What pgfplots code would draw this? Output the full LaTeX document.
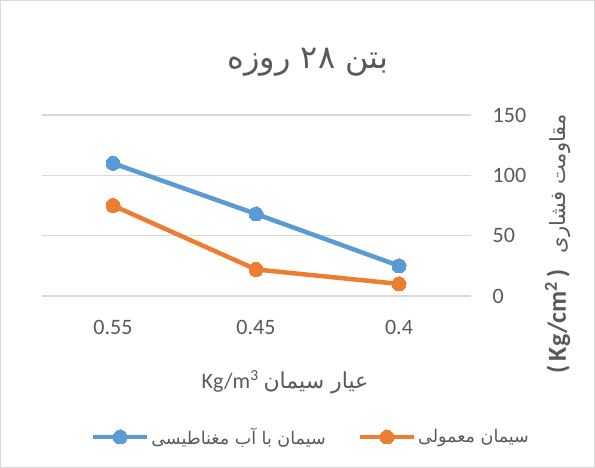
\documentclass[border=0pt]{standalone}
\usepackage{fontspec}
\usepackage{pgfplots}
\pgfplotsset{compat=1.18}
\setmainfont{Carlito}
\newfontfamily\arabicfont[Script=Arabic]{DejaVu Sans}
\TeXXeTstate=1
\definecolor{txt}{HTML}{595959}
\definecolor{gridc}{HTML}{D9D9D9}
\definecolor{sblue}{HTML}{5B9BD5}
\definecolor{sorange}{HTML}{ED7D31}
\begin{document}
\begin{tikzpicture}[x=1pt,y=1pt]
\useasboundingbox (0,0) rectangle (595,468);
\draw[gridc, line width=1pt] (0.5,0.5) rectangle (594.5,467.5);
\begin{axis}[
  at={(41.5pt,172pt)}, anchor=south west,
  scale only axis, width=429pt, height=181pt,
  xmin=-0.5, xmax=2.5, ymin=0, ymax=150,
  xtick={0,1,2}, xticklabels={0.55,0.45,0.4},
  ytick={0,50,100,150},
  /pgf/number format/assume math mode=true,
  yticklabel pos=right,
  axis line style={draw=none},
  major tick length=0pt,
  ymajorgrids, grid style={gridc, line width=1.2pt},
  tick label style={font=\fontsize{22}{26}\selectfont, text=txt},
  yticklabel style={anchor=west, inner sep=0pt, xshift=22pt},
  xticklabel style={anchor=north, inner sep=0pt, yshift=-24pt},
  clip=false,
  legend style={draw=none, fill=none, at={(0.628,-0.779)}, anchor=center,
    font=\arabicfont\fontsize{17.5}{20}\selectfont, text=txt,
    /tikz/every even column/.append style={column sep=30pt}},
  legend columns=2,
  legend cell align=left,
  legend image code/.code={\draw[mark repeat=2,mark phase=2] plot coordinates {(0pt,0pt)(27pt,0pt)(54pt,0pt)};},
]
\addplot[sblue, line width=4.5pt, mark=*, mark size=7pt, mark options={solid, fill=sblue, draw=sblue, line width=0pt}]
  coordinates {(0,110) (1,68) (2,25)};
\addlegendentry{\beginR سیمان با آب مغناطیسی\endR}
\addplot[sorange, line width=4.5pt, mark=*, mark size=7pt, mark options={solid, fill=sorange, draw=sorange, line width=0pt}]
  coordinates {(0,75) (1,22) (2,10)};
\addlegendentry{\beginR سیمان معمولی\endR}
\end{axis}
\node[text=txt, font=\arabicfont\fontsize{32}{38}\selectfont] at (308,406) {\beginR بتن ۲۸ روزه\endR};
\node[text=txt, font=\fontsize{22}{26}\selectfont] at (285,86) {Kg/m\textsuperscript{3} {\arabicfont\beginR عیار سیمان\endR}};
\node[text=txt, rotate=90, font=\fontsize{21}{26}\selectfont] at (558,224) {{\fontsize{26}{30}\selectfont\bfseries (\,Kg/cm\textsuperscript{2}\,)}\hspace{16pt}{\arabicfont\beginR مقاومت فشاری\endR}};
\end{tikzpicture}
\end{document}
